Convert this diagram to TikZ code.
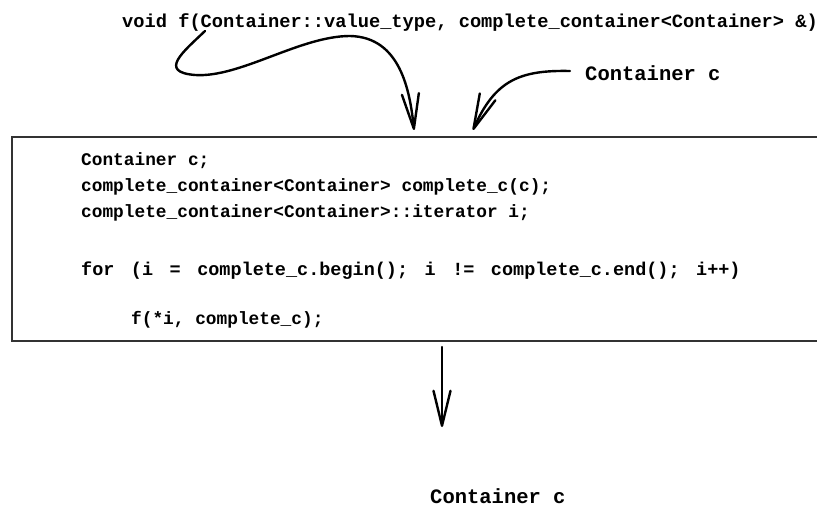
\documentclass[tikz,border=0pt]{standalone}
\usepackage{fontspec}
\setmonofont{Liberation Mono}
\usetikzlibrary{arrows.meta}
\begin{document}
\begin{tikzpicture}[x=1pt,y=-1pt,
  code/.style={font=\ttfamily\bfseries\fontsize{17.8}{22}\selectfont, inner sep=0pt, anchor=base west},
  widecode/.style={code, font=\ttfamily\bfseries\fontsize{18.5}{22}\selectfont, execute at begin node={\spaceskip=16.5pt\relax}},
  sigtext/.style={code, font=\ttfamily\bfseries\fontsize{18.7}{22}\selectfont},
  label/.style={code, font=\ttfamily\bfseries\fontsize{20.5}{22}\selectfont},
  flow/.style={line width=2.4pt, line cap=round, -{Straight Barb[length=35pt,width=17pt,line width=2.4pt,round]}},
  frame/.style={line width=1.6pt, draw=black!80}]
\useasboundingbox (0,0) rectangle (817,508);
% texts
\node[sigtext] (sig) at (122,28) {void f(Container::value\_type, complete\_container<Container> \&)};
\node[label] (cin) at (585,81) {Container c};
\node[label] (cout) at (430,503) {Container c};
% box
\draw[frame] (817,137) -- (12,137) -- (12,341) -- (817,341);
\node[code] (l1) at (81,166) {Container c;};
\node[code] (l2) at (81,192) {complete\_container<Container> complete\_c(c);};
\node[code] (l3) at (81,218) {complete\_container<Container>::iterator i;};
\node[widecode] (l4) at (81,275) {for (i = complete\_c.begin(); i != complete\_c.end(); i++)};
\node[code] (l5) at (131,324) {f(*i, complete\_c);};
% connector end points
\coordinate (s1) at (205,31);
\coordinate (t1) at (414,130);
\coordinate (s2) at (570,71);
\coordinate (t2) at (473,130);
\coordinate (s3) at (442,347);
\coordinate (t3) at (442,427);
\draw[flow] (s1) .. controls (183,52) and (158,72) .. (195,75)
  .. controls (240,78) and (300,36) .. (350,36)
  .. controls (400,37) and (410,90) .. (t1);
\draw[flow] (s2) .. controls (520,70) and (495,80) .. (t2);
\draw[flow] (s3) -- (t3);
\end{tikzpicture}
\end{document}
